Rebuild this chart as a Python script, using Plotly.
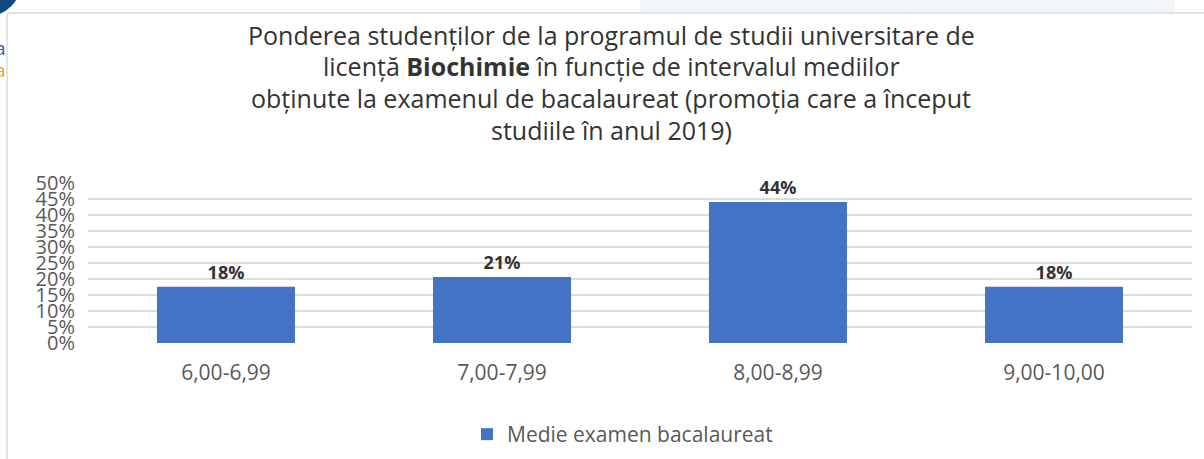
import plotly.graph_objects as go

categories = ["6,00-6,99", "7,00-7,99", "8,00-8,99", "9,00-10,00"]
values = [0.176, 0.206, 0.441, 0.176]
series_name = "Medie examen bacalaureat"
y_ticks = [i * 0.05 for i in range(11)]
y_tick_labels = [f"{i*5}%" for i in range(11)]
title_lines = [
    "Ponderea studenților de la programul de studii universitare de",
    "licență <b>Biochimie</b> în funcție de intervalul mediilor",
    "obținute la examenul de bacalaureat (promoția care a început",
    "studiile în anul 2019)",
]

W, H = 1204, 459
L, R, T, B = 88, 12, 183, 116
PW, PH = W - L - R, H - T - B


def px(x):
    return (x - L) / PW


def py(y):
    return (H - B - y) / PH


FONT = "Open Sans"
BAR = "#4472C4"

fig = go.Figure()
fig.add_trace(go.Bar(
    x=categories, y=values, name=series_name,
    marker=dict(color=BAR, line=dict(width=0)),
    texttemplate="%{y:.0%}", textposition="outside",
    textfont=dict(family=FONT, size=18, color="#333333", weight="bold"),
    cliponaxis=False,
    showlegend=True,
))

shapes = [
    dict(type="rect", xref="paper", yref="paper", x0=px(640), x1=px(1175), y0=py(0), y1=py(12),
         fillcolor="#f3f6f9", line=dict(width=0), layer="below"),
    dict(type="line", xref="paper", yref="paper", x0=px(7), x1=px(1204), y0=py(13), y1=py(13),
         line=dict(color="#e3e3e3", width=2), layer="below"),
    dict(type="line", xref="paper", yref="paper", x0=px(7), x1=px(7), y0=py(13), y1=py(459),
         line=dict(color="#e3e3e3", width=2), layer="below"),
    dict(type="circle", xref="paper", yref="paper", x0=px(-52), x1=px(22), y0=py(-57), y1=py(17),
         fillcolor="#0e4a7c", line=dict(width=0), layer="above"),
]

annotations = []
title_y = [35, 66, 98, 130]
for line, yy in zip(title_lines, title_y):
    annotations.append(dict(
        text=line, xref="paper", yref="paper", x=px(611), y=py(yy),
        xanchor="center", yanchor="middle", showarrow=False,
        font=dict(family=FONT, size=25, color="#333333"),
    ))
annotations.append(dict(text="a", xref="paper", yref="paper", x=px(8), y=py(48),
                        xanchor="right", yanchor="middle", showarrow=False,
                        font=dict(family=FONT, size=19, color="#1f5fa8")))
annotations.append(dict(text="a", xref="paper", yref="paper", x=px(8), y=py(70),
                        xanchor="right", yanchor="middle", showarrow=False,
                        font=dict(family=FONT, size=19, color="#e3a52a")))

fig.update_layout(
    width=W, height=H,
    margin=dict(l=L, r=R, t=T, b=B, pad=0, autoexpand=False),
    paper_bgcolor="white", plot_bgcolor="white",
    bargap=0.5,
    font=dict(family=FONT, color="#595959"),
    shapes=shapes,
    annotations=annotations,
    legend=dict(
        orientation="h", x=px(467), y=py(414), xanchor="left", yanchor="top",
        font=dict(family=FONT, size=21, color="#595959"),
        bgcolor="rgba(0,0,0,0)",
    ),
    xaxis=dict(
        showgrid=False, showline=False, zeroline=False, ticks="",
        tickfont=dict(family=FONT, size=21, color="#595959"),
        ticklabelstandoff=15,
    ),
    yaxis=dict(
        range=[0, 0.5], tickvals=y_ticks, ticktext=y_tick_labels,
        showgrid=True, gridcolor="#dcdcdc", gridwidth=1.5,
        zeroline=False, showline=False, ticks="",
        tickfont=dict(family=FONT, size=20, color="#595959"),
        ticklabelstandoff=12,
    ),
)

fig.write_html(
    "out.html",
    config={"displayModeBar": False},
    post_script="document.body.style.margin='0';document.body.style.padding='0';",
)
